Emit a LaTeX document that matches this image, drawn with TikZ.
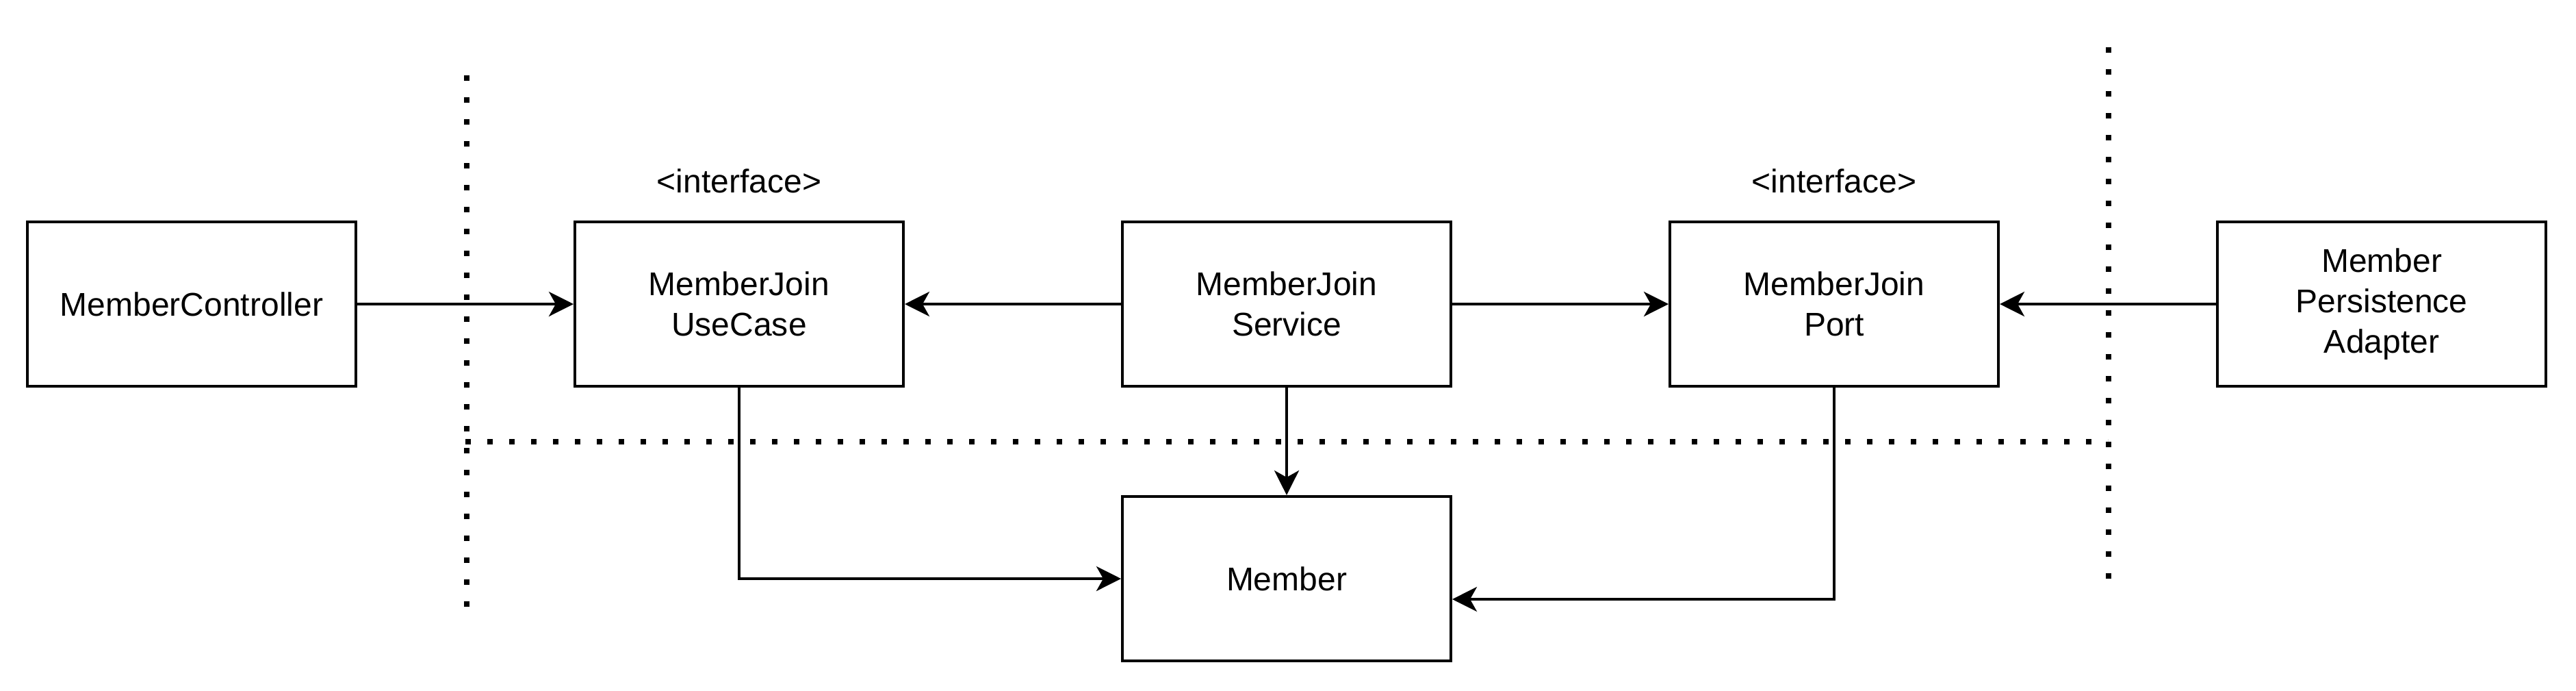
\documentclass[tikz,border=0pt]{standalone}
\usepackage{fontspec}
\setmainfont{Liberation Sans}
\usetikzlibrary{arrows.meta,positioning}
\tikzset{
  classbox/.style={draw, line width=1pt, minimum width=120pt, minimum height=60pt,
    inner sep=0pt, align=center, font=\fontsize{12}{14.7}\selectfont},
  stereo/.style={inner sep=0pt, font=\fontsize{12}{15}\selectfont},
  link/.style={line width=1pt, -{Stealth[length=9pt,width=9pt,inset=2.5pt]}},
  boundary/.style={line width=2pt, dash pattern=on 2pt off 6pt},
}

\begin{document}
\begin{tikzpicture}[x=1pt,y=-1pt]
  \useasboundingbox (0,0) rectangle (941,252);
  % Layer boundaries
  \draw[boundary] (170.5,27.5) -- (170.5,221.5);
  \draw[boundary] (770.25,17.25) -- (770.25,211.25);
  \draw[boundary] (170,161.25) -- (770,161.25);
  % Components
  \node[classbox] (controller) at (70,111) {MemberController};
  \node[classbox] (usecase) at (270,111) {MemberJoin\\UseCase};
  \node[stereo] (usecasetag) at (270,66) {<interface>};
  \node[classbox] (service) at (470,111) {MemberJoin\\Service};
  \node[classbox] (port) at (670,111) {MemberJoin\\Port};
  \node[stereo] (porttag) at (670,66) {<interface>};
  \node[classbox] (adapter) at (870,111) {Member\\Persistence\\Adapter};
  \node[classbox] (member) at (470,211.25) {Member};
  % Dependencies
  \draw[link] (controller) -- (usecase);
  \draw[link] (service) -- (usecase);
  \draw[link] (service) -- (port);
  \draw[link] (adapter) -- (port);
  \draw[link] (service) -- (member);
  \draw[link] (usecase.south) |- (member.west);
  \draw[link] (port.south) |- ([yshift=-7.5pt]member.east);
\end{tikzpicture}
\end{document}
